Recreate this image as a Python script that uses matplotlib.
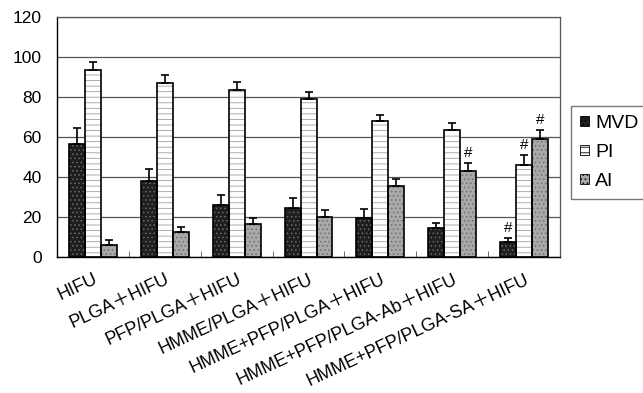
import matplotlib.pyplot as plt
import numpy as np
from matplotlib.patches import Patch

groups = ['HIFU', 'PLGA＋HIFU', 'PFP/PLGA＋HIFU', 'HMME/PLGA＋HIFU',
          'HMME+PFP/PLGA＋HIFU', 'HMME+PFP/PLGA-Ab＋HIFU', 'HMME+PFP/PLGA-SA＋HIFU']
mvd = [56.5, 38, 25.8, 24.3, 19.7, 14.3, 7.7]
mvd_err = [8, 6, 5, 5, 4.3, 2.8, 2]
pi = [93.3, 86.8, 83.3, 79, 68, 63.7, 46]
pi_err = [4, 4, 4, 3.5, 2.8, 3.5, 4.8]
ai = [6, 12.7, 16.3, 20, 35.5, 43, 59]
ai_err = [2.5, 2.5, 3, 3.5, 3.5, 4.2, 4.7]
# '#' marks: (series index, group index)
marks = [(2, 5), (0, 6), (1, 6), (2, 6)]

plt.rcParams['font.family'] = ['Liberation Sans', 'Noto Sans CJK SC', 'DejaVu Sans']
plt.rcParams['hatch.linewidth'] = 0.6

fig = plt.figure(figsize=(6.43, 3.93), dpi=100)
ax = fig.add_axes([0.0886, 0.346, 0.7825, 0.6107])

x = np.arange(len(groups))
w = 0.222
styles = [
    dict(label='MVD', fc='#1e1e1e', hc='#6a6a6a', hatch='....'),
    dict(label='PI', fc='white', hc='#a0a0a0', hatch='---'),
    dict(label='AI', fc='#a9a9a9', hc='#6e6e6e', hatch='....'),
]
series = [(mvd, mvd_err), (pi, pi_err), (ai, ai_err)]

for k, ((vals, errs), st) in enumerate(zip(series, styles)):
    pos = x + (k - 1) * w
    ax.bar(pos, vals, w, color=st['fc'], edgecolor=st['hc'], hatch=st['hatch'],
           linewidth=0, zorder=2)
    ax.bar(pos, vals, w, fill=False, edgecolor='black', linewidth=1.2, zorder=3)
    ax.errorbar(pos, vals, yerr=[np.zeros(len(errs)), errs], fmt='none',
                ecolor='black', elinewidth=1.2, capsize=3, capthick=1.2, zorder=4)

for k, g in marks:
    vals, errs = series[k]
    ax.text(g + (k - 1) * w, vals[g] + errs[g] + 1.5, '#', ha='center', va='bottom',
            fontsize=11)

ax.set_xlim(-0.5, len(groups) - 0.5)
ax.set_ylim(0, 120)
ax.set_yticks(np.arange(0, 121, 20))
ax.yaxis.grid(True, color='#555555', linewidth=0.9)
ax.set_axisbelow(True)
ax.tick_params(axis='y', length=0, labelsize=12.5, pad=11)

ax.set_xticks(x)
ax.set_xticklabels(groups, fontsize=13)
ax.set_xticks(x[:-1] + 0.5, minor=True)
ax.tick_params(axis='x', which='major', length=0, pad=10)
ax.tick_params(axis='x', which='minor', direction='in', length=4, color='#555555')
plt.setp(ax.get_xticklabels(), rotation=25, ha='right', rotation_mode='anchor')

for s in ['top', 'right']:
    ax.spines[s].set_color('#555555')
    ax.spines[s].set_linewidth(0.9)
for s in ['left', 'bottom']:
    ax.spines[s].set_color('black')
    ax.spines[s].set_linewidth(1.0)

handles = [Patch(facecolor=st['fc'], edgecolor='black', hatch=st['hatch'],
                 linewidth=0.6, label=st['label']) for st in styles]
fig.legend(handles=handles, loc='upper left', bbox_to_anchor=(571 / 643, 1 - 106 / 393),
           frameon=True, fancybox=False, edgecolor='#555555', fontsize=14,
           handlelength=0.45, handleheight=0.45, handletextpad=0.35,
           labelspacing=0.62, borderpad=0.45, borderaxespad=0)

fig.savefig('out.png', dpi=100)
